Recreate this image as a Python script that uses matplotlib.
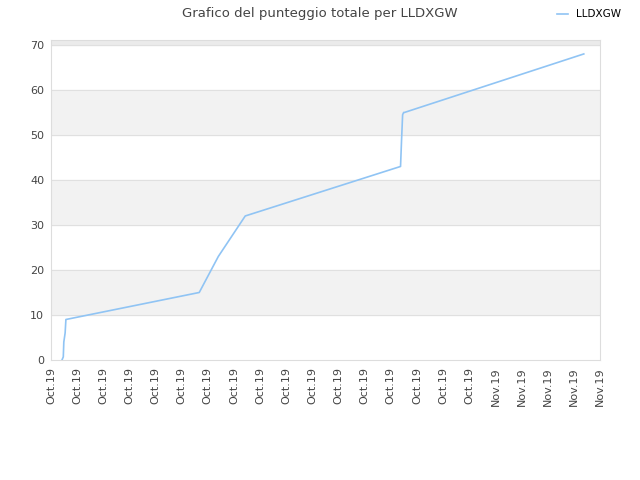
import datetime as dt
import matplotlib
matplotlib.use("Agg")
import matplotlib.pyplot as plt
import matplotlib.dates as mdates

# Offsets in days from the first tick (15 Oct 2019) and total score
day_offsets = [0.42, 0.47, 0.49, 0.54, 0.57, 5.67, 6.40, 7.43, 13.37, 13.41, 13.45, 13.49, 13.52, 20.38]
scores = [0, 0.7, 4, 6, 9, 15, 23, 32, 43, 49, 54.5, 55, 55, 68]
series_name = "LLDXGW"
title = "Grafico del punteggio totale per LLDXGW"

start = dt.datetime(2019, 10, 15)
dates = [start + dt.timedelta(days=d) for d in day_offsets]

fig = plt.figure(figsize=(6.4, 4.8), dpi=100)
ax = fig.add_axes([0.0797, 0.25, 0.8578, 0.6667])

ymax = 71.1
# alternating bands
for lo in (10, 30, 50):
    ax.axhspan(lo, lo + 10, color="#f2f2f2", zorder=0)
ax.axhspan(70, ymax, color="#ebebeb", zorder=0)
for yv in range(10, 71, 10):
    ax.axhline(yv, color="#e0e0e0", lw=0.8, zorder=1)

ax.plot(dates, scores, color="#90c4f4", lw=1.2, label=series_name, zorder=3)

ax.set_xlim(start, start + dt.timedelta(days=21))
ax.set_ylim(0, ymax)
ax.set_yticks(range(0, 71, 10))
ax.xaxis.set_major_locator(mdates.DayLocator())
ax.xaxis.set_major_formatter(mdates.DateFormatter("%b.%y"))
plt.setp(ax.get_xticklabels(), rotation=90)
ax.tick_params(length=0, labelsize=8, colors="#444444", pad=5)

for s in ax.spines.values():
    s.set_color("#dddddd")

fig.suptitle(title, fontsize=9.5, color="#444444", y=0.985)
fig.legend(loc="upper right", bbox_to_anchor=(0.985, 1.0), frameon=False,
           fontsize=7.5, handlelength=1.0, handletextpad=0.8)

fig.savefig("out.png", dpi=100)
